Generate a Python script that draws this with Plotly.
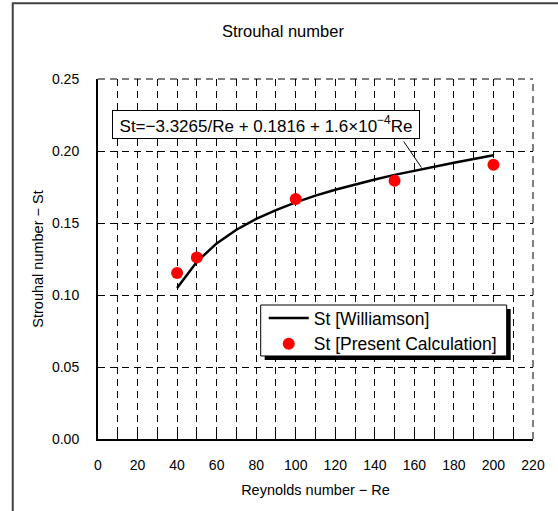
import plotly.graph_objects as go

# ---- data ----
re_curve = [40, 50, 60, 70, 80, 90, 100, 110, 120, 130, 140, 150, 160, 170, 180, 190, 200]
st_williamson = [0.1048, 0.1231, 0.1358, 0.1453, 0.1528, 0.1590, 0.1643, 0.1690, 0.1731,
                 0.1768, 0.1802, 0.1834, 0.1864, 0.1892, 0.1919, 0.1945, 0.1970]
re_calc = [40, 50, 100, 150, 200]
st_calc = [0.1152, 0.1260, 0.1666, 0.1793, 0.1904]

x_range = [0, 220]
y_range = [0, 0.25]

FONT = "Liberation Sans, Arial, sans-serif"
DASH = "7px,5px"

fig = go.Figure()
fig.add_trace(go.Scatter(
    x=re_curve, y=st_williamson, mode="lines", name="St [Williamson]",
    line=dict(color="black", width=2.5), legendgroup="a"))
fig.add_trace(go.Scatter(
    x=re_calc, y=st_calc, mode="markers", name="St [Present Calculation]",
    marker=dict(color="#FF0000", size=12), legendgroup="b"))

fig.update_layout(
    width=558, height=511,
    margin=dict(l=98, r=25, t=79, b=72),
    paper_bgcolor="white", plot_bgcolor="white",
    font=dict(family=FONT, color="black", size=14),
    title=dict(text="Strouhal number", x=0.507, xref="container", xanchor="center",
               y=1 - 31 / 511, yref="container", yanchor="middle",
               font=dict(size=16.5, color="black")),
    showlegend=True,
    legend=dict(x=0.381, y=0.386, xanchor="left", yanchor="top",
                bordercolor="rgba(0,0,0,0)", borderwidth=0, bgcolor="rgba(0,0,0,0)",
                font=dict(size=17.5), itemwidth=40, tracegroupgap=2,
                traceorder="normal"),
)

fig.update_xaxes(
    range=x_range, tickmode="linear", tick0=0, dtick=20,
    showgrid=True, gridcolor="black", gridwidth=1, griddash=DASH,
    minor=dict(dtick=10, tick0=0, showgrid=True, gridcolor="black", gridwidth=1,
               griddash=DASH, ticks="inside", ticklen=5, tickcolor="black"),
    ticks="inside", ticklen=5, tickcolor="black",
    showline=True, linecolor="black", linewidth=2, mirror=False, zeroline=False,
    tickfont=dict(size=14), ticklabelstandoff=12,
    title=dict(text="Reynolds number − Re", font=dict(size=14.5), standoff=13),
)
fig.update_yaxes(
    range=y_range, tickmode="linear", tick0=0, dtick=0.05, tickformat=".2f",
    showgrid=True, gridcolor="black", gridwidth=1, griddash=DASH,
    ticks="", showline=True, linecolor="black", linewidth=2, mirror=False, zeroline=False,
    tickfont=dict(size=14), ticklabelstandoff=14,
    title=dict(text="Strouhal number − St", font=dict(size=14.5), standoff=5),
)

shapes = [
    # dashed top and right edges of the plot area
    dict(type="line", xref="paper", yref="paper", x0=0, x1=1, y0=1, y1=1,
         line=dict(color="black", width=1, dash=DASH)),
    dict(type="line", xref="paper", yref="paper", x0=1, x1=1, y0=0, y1=1,
         line=dict(color="black", width=1, dash=DASH)),
    # outer chart frame
    dict(type="rect", xref="paper", yref="paper", x0=-0.196, x1=1.3, y0=-0.4, y1=1.2103,
         line=dict(color="#404040", width=2), fillcolor="rgba(0,0,0,0)"),
    # legend shadow
    dict(type="rect", xref="paper", yref="paper", x0=0.3832, x1=0.9487, y0=0.2194, y1=0.361,
         line=dict(width=0), fillcolor="black", layer="above"),
    # legend box
    dict(type="rect", xref="paper", yref="paper", x0=0.374, x1=0.9395, y0=0.2306, y1=0.3722,
         line=dict(color="black", width=1), fillcolor="white", layer="above"),
    # leader line from formula box to curve
    dict(type="line", xref="x", yref="y", x0=154.6, y0=0.2066, x1=163.6, y1=0.1885,
         line=dict(color="black", width=1)),
]
fig.update_layout(shapes=shapes)

fig.add_annotation(
    x=84.8, y=0.2187, xref="x", yref="y", showarrow=False,
    text="St=−3.3265/Re + 0.1816 + 1.6×10<sup>−4</sup>Re",
    font=dict(size=17, color="black"),
    bordercolor="black", borderwidth=1, bgcolor="white", borderpad=2,
    width=302, height=23,
)

fig.write_html("out.html")
